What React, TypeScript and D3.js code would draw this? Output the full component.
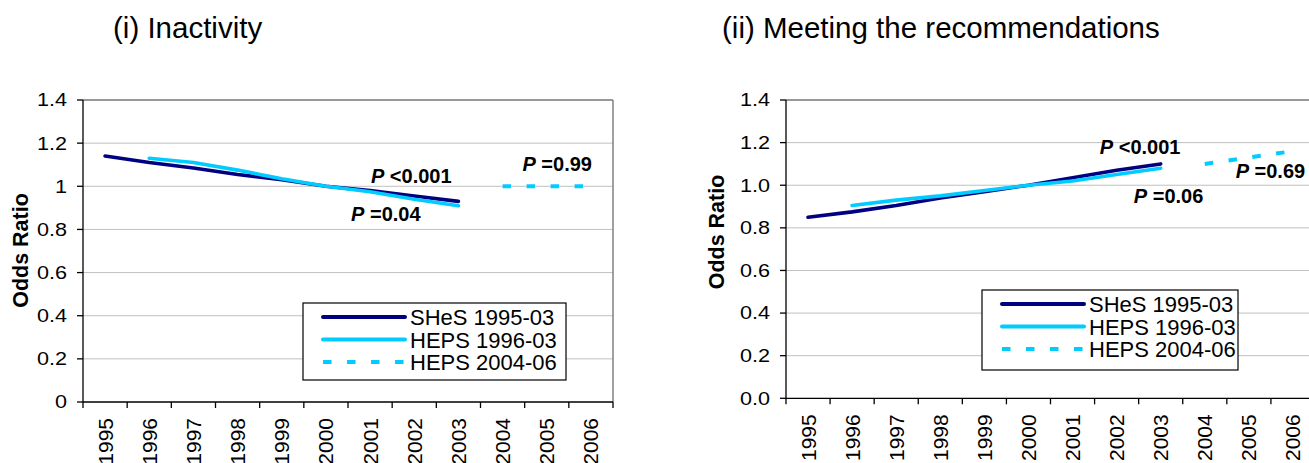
import React from "react";
import * as d3 from "d3";

const years = ["1995", "1996", "1997", "1998", "1999", "2000", "2001", "2002", "2003", "2004", "2005", "2006"];
const legendLabels = ["SHeS 1995-03", "HEPS 1996-03", "HEPS 2004-06"];

// odds ratios
const inactShes = [1.14, 1.11, 1.085, 1.055, 1.03, 1.0, 0.98, 0.955, 0.93]; // 1995-2003
const inactHeps1 = [1.13, 1.11, 1.075, 1.035, 1.0, 0.975, 0.94, 0.91]; // 1996-2003
const inactHeps2 = [1.0, 1.0, 1.0]; // 2004-2006
const recShes = [0.85, 0.875, 0.905, 0.94, 0.97, 1.0, 1.035, 1.07, 1.1];
const recHeps1 = [0.905, 0.93, 0.95, 0.975, 1.0, 1.02, 1.05, 1.08];
const recHeps2 = [1.1, 1.13, 1.16];

// p-value notes: [italic part, rest, year position, value at baseline]
const inactNotes = [
  ["P", " <0.001", 2001.02, 1.015],
  ["P", " =0.04", 2000.57, 0.839],
  ["P", " =0.99", 2004.45, 1.072],
];
const recNotes = [
  ["P", " <0.001", 2001.62, 1.147],
  ["P", " =0.06", 2002.39, 0.918],
  ["P", " =0.69", 2004.7, 1.033],
];

const NAVY = "#000080";
const CYAN = "#00CCFF";
const FONT = "'Liberation Sans', Arial, sans-serif";

const Panel = ({ title, titleX, shes, heps1, heps2, notes, fmt, plot, yLab, legend }) => {
  const { x0, x1, y0, y1 } = plot;
  const x = d3.scaleBand().domain(years).range([x0, x1]);
  const bw = x.bandwidth();
  const xLin = d3.scaleLinear().domain([1995, 2006]).range([x("1995") + bw / 2, x("2006") + bw / 2]);
  const y = d3.scaleLinear().domain([0, 1.4]).range([y1, y0]);
  const yTicks = y.ticks(7);

  const line = d3.line().x(d => xLin(d[0])).y(d => y(d[1]));
  const toPts = (vals, start) => vals.map((v, i) => [start + i, v]);

  const series = [
    { pts: toPts(shes, 1995), color: NAVY, dash: null },
    { pts: toPts(heps1, 1996), color: CYAN, dash: null },
    { pts: toPts(heps2, 2004), color: CYAN, dash: "8.5,15.5" },
  ];

  return (
    <g>
      <text x={titleX} y={38} fontSize={29.5} fontFamily={FONT}>{title}</text>

      {yTicks.filter(t => t > 0).map(t => (
        <line key={t} x1={x0} x2={x1} y1={y(t)} y2={y(t)} stroke="#c0c0c0" strokeWidth={1} />
      ))}
      <line x1={x0} x2={x1} y1={y0} y2={y0} stroke="#808080" strokeWidth={1.5} />
      <line x1={x1} x2={x1} y1={y0} y2={y1} stroke="#808080" strokeWidth={1.5} />
      <line x1={x0} x2={x0} y1={y0} y2={y1} stroke="#000" strokeWidth={1.3} />
      <line x1={x0} x2={x1} y1={y1} y2={y1} stroke="#000" strokeWidth={1.3} />

      {yTicks.map(t => (
        <g key={t}>
          <line x1={x0 - 6} x2={x0} y1={y(t)} y2={y(t)} stroke="#000" strokeWidth={1.3} />
          <text transform={`translate(${x0 - 16},${y(t) + 6.4}) scale(1.2,1)`} textAnchor="end"
            fontSize={18} fontFamily={FONT}>{fmt(t)}</text>
        </g>
      ))}

      {years.concat(["end"]).map((yr, i) => {
        const tx = x0 + i * bw;
        return <line key={yr} x1={tx} x2={tx} y1={y1} y2={y1 + 6} stroke="#000" strokeWidth={1.3} />;
      })}
      {years.map(yr => (
        <text key={yr} transform={`translate(${x(yr) + bw / 2 + 7.5},${y1 + 16}) rotate(-90)`}
          textAnchor="end" fontSize={21} fontFamily={FONT}>{yr}</text>
      ))}

      <text transform={`translate(${yLab[0]},${yLab[1]}) rotate(-90)`} textAnchor="middle"
        fontSize={21.5} fontWeight="bold" fontFamily={FONT}>Odds Ratio</text>

      {series.map((s, i) => (
        <path key={i} d={line(s.pts)} fill="none" stroke={s.color} strokeWidth={s.dash ? 4 : 3.6}
          strokeDasharray={s.dash || undefined} strokeLinecap={s.dash ? "butt" : "round"}
          strokeLinejoin="round" />
      ))}

      {notes.map((n, i) => (
        <text key={i} x={xLin(n[2])} y={y(n[3])} fontSize={20} fontWeight="bold" fontFamily={FONT}>
          <tspan fontStyle="italic">{n[0]}</tspan>{n[1]}
        </text>
      ))}

      <rect x={legend.x} y={legend.y} width={legend.w} height={legend.h} fill="#fff" stroke="#000" strokeWidth={1.2} />
      {legendLabels.map((lab, i) => {
        const ly = legend.y + 14 + i * 22.5;
        const s = series[i];
        return (
          <g key={lab}>
            <line x1={legend.x + 20} x2={legend.x + 102} y1={ly} y2={ly} stroke={s.color} strokeWidth={4}
              strokeDasharray={s.dash || undefined} strokeLinecap={s.dash ? "butt" : "round"} />
            <text x={legend.x + 107} y={ly + 8} fontSize={22} fontFamily={FONT}>{lab}</text>
          </g>
        );
      })}
    </g>
  );
};

const App = () => {
  return (
    <svg width={1309} height={463} style={{ position: "absolute", left: 0, top: 0, background: "#fff" }}>
      <rect width={1309} height={463} fill="#fff" />
      <Panel title="(i) Inactivity" titleX={113} shes={inactShes} heps1={inactHeps1} heps2={inactHeps2}
        notes={inactNotes} fmt={d3.format("~g")}
        plot={{ x0: 83, x1: 613, y0: 100, y1: 402 }} yLab={[27.5, 250.5]}
        legend={{ x: 303, y: 303, w: 263, h: 77 }} />
      <Panel title="(ii) Meeting the recommendations" titleX={722} shes={recShes} heps1={recHeps1} heps2={recHeps2}
        notes={recNotes} fmt={d3.format(".1f")}
        plot={{ x0: 786, x1: 1315, y0: 100, y1: 398.3 }} yLab={[724, 232]}
        legend={{ x: 982, y: 290, w: 256, h: 80 }} />
    </svg>
  );
};

export default App;
